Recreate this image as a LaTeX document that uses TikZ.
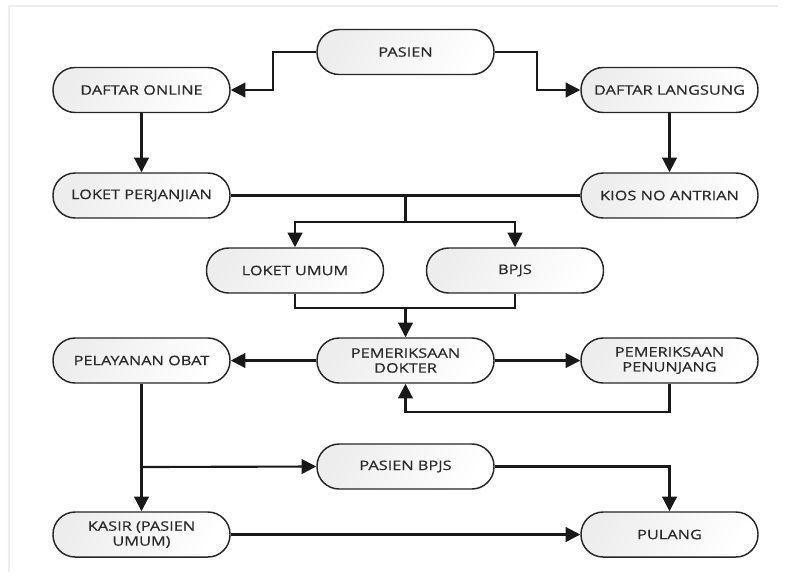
\documentclass[tikz,border=0pt]{standalone}
\usepackage{fontspec}
\setmainfont[FakeStretch=1.25,FakeBold=0.6]{Open Sans}
\usetikzlibrary{arrows.meta}
\definecolor{frameblue}{HTML}{EBEFF4}
\definecolor{txt}{HTML}{2A2A2A}
\tikzset{
  proc/.style={draw=black!85, line width=1.1pt, rounded corners=16.6pt,
    minimum width=132.75pt, minimum height=33.75pt, inner sep=0pt,
    left color=black!7, right color=white, shading angle=60,
    font=\fontsize{9.8pt}{11.2pt}\selectfont, text=txt, align=center},
  conn/.style={line width=1.6pt, draw=black!90},
  arr/.style={conn, -{Triangle[length=11pt,width=11pt]}}
}
\begin{document}
\begin{tikzpicture}[x=0.75pt,y=-0.75pt]
\useasboundingbox (0,0) rectangle (787,576);
\draw[frameblue, line width=1pt] (9,572) -- (9,6) -- (778,6);
% nodes
\node[proc] (pasien) at (405.5,52) {PASIEN};
\node[proc] (online) at (141.5,90) {DAFTAR ONLINE};
\node[proc] (langsung) at (669.5,90) {DAFTAR LANGSUNG};
\node[proc] (perjanjian) at (141.5,195.5) {LOKET PERJANJIAN};
\node[proc] (kios) at (669.5,195.5) {KIOS NO ANTRIAN};
\node[proc] (umum) at (295,270.5) {LOKET UMUM};
\node[proc] (bpjs) at (515,270.5) {BPJS};
\node[proc] (obat) at (141.5,360.5) {PELAYANAN OBAT};
\node[proc] (dokter) at (405.5,360.5) {PEMERIKSAAN\\DOKTER};
\node[proc] (penunjang) at (669.5,360.5) {PEMERIKSAAN\\PENUNJANG};
\node[proc] (pbpjs) at (405.5,466.5) {PASIEN BPJS};
\node[proc] (kasir) at (141.5,534.5) {KASIR (PASIEN\\UMUM)};
\node[proc] (pulang) at (669.5,534.5) {PULANG};
% coordinates
\coordinate (j1) at (405.5,195.5);
\coordinate (j2) at (405.5,222);
\coordinate (j3) at (405.5,308);
\coordinate (j4) at (141.5,467);
% connectors
\draw[arr] (pasien.west) -- (273,52) |- (online.east);
\draw[arr] (pasien.east) -- (537,52) |- (langsung.west);
\draw[arr] (online) -- (perjanjian);
\draw[arr] (langsung) -- (kios);
\draw[conn] (perjanjian.east) -- (kios.west);
\draw[conn] (j1) -- (j2);
\draw[arr] (j2) -| (umum.north);
\draw[arr] (j2) -| (bpjs.north);
\draw[conn] (umum.south) |- (j3) -| (bpjs.south);
\draw[arr] (j3) -- (dokter.north);
\draw[arr] (dokter) -- (obat);
\draw[arr] (dokter) -- (penunjang);
\draw[arr] (penunjang.south) |- (405.5,412) -- (dokter.south);
\draw[arr] (obat) -- (kasir);
\draw[arr] (j4) -- (pbpjs.west);
\draw[arr] (pbpjs.east) -| (pulang.north);
\draw[arr] (kasir) -- (pulang);
\end{tikzpicture}
\end{document}
